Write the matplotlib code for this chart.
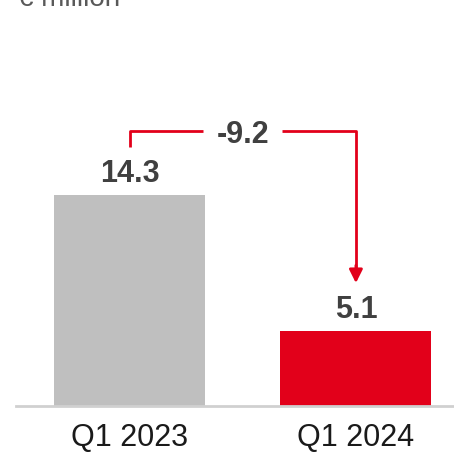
import matplotlib.pyplot as plt

plt.rcParams['font.family'] = ['Liberation Sans', 'DejaVu Sans']

categories = ['Q1 2023', 'Q1 2024']
values = [14.3, 5.1]
change = -9.2
unit_label = '€ million'
bar_colors = ['#bfbfbf', '#e2001a']
red = '#e2001a'
dark = '#404040'

fig = plt.figure(figsize=(4.54, 4.54), dpi=100)
# axes placed in pixel terms: baseline at y=406, left edge x=16
ax = fig.add_axes([16 / 454, 1 - 406 / 454, 438 / 454, 406 / 454])

x = range(len(categories))
ax.bar(x, values, width=0.668, color=bar_colors)
ax.set_xlim(-0.504, 1.434)
ax.set_ylim(0, 406 / 14.76)

for i, v in zip(x, values):
    ax.annotate(f'{v:.1f}', (i, v), xytext=(0, 9.3), textcoords='offset points',
                ha='center', va='baseline', fontsize=22, fontweight='bold', color=dark)

# bracket from first bar to second with arrow
top = 18.63
start = 17.55
tip = 8.33
ax.plot([0, 0, 0.323], [start, top, top], color=red, lw=2, solid_capstyle='butt')
ax.plot([0.673, 1, 1], [top, top, tip + 1.0], color=red, lw=2, solid_capstyle='butt')
ax.annotate('', xy=(1, tip), xytext=(1, tip + 1.2),
            arrowprops=dict(arrowstyle='-|>,head_length=0.8,head_width=0.4',
                            color=red, lw=2, shrinkA=0, shrinkB=0))
ax.text(0.5, 17.82, f'{change:.1f}', ha='center', va='baseline',
        fontsize=22, fontweight='bold', color=dark)

ax.set_xticks(list(x))
ax.set_xticklabels(categories, fontsize=22, color='#1a1a1a')
ax.tick_params(axis='x', length=0, pad=12)
ax.set_yticks([])
for s in ['top', 'right', 'left']:
    ax.spines[s].set_visible(False)
ax.spines['bottom'].set_color('#d0d0d0')
ax.spines['bottom'].set_linewidth(2)

fig.text(18 / 454, 1 - 6 / 454, unit_label, fontsize=20, color='#595959',
         ha='left', va='baseline')

fig.savefig('out.png', dpi=100)
